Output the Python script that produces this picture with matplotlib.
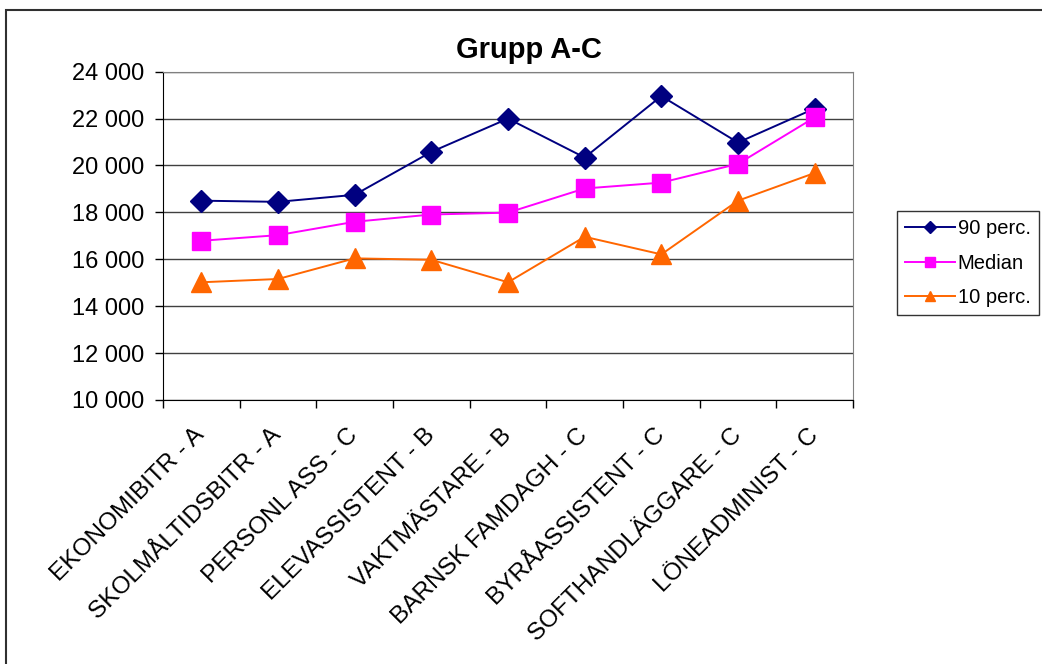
import matplotlib
matplotlib.use("Agg")
import matplotlib.pyplot as plt
from matplotlib.ticker import FuncFormatter, FixedLocator
from matplotlib.patches import Rectangle

plt.rcParams['font.family'] = ['Liberation Sans', 'DejaVu Sans']

categories = ["EKONOMIBITR - A", "SKOLMÅLTIDSBITR - A", "PERSONL ASS - C",
              "ELEVASSISTENT - B", "VAKTMÄSTARE - B", "BARNSK FAMDAGH - C",
              "BYRÅASSISTENT - C", "SOFTHANDLÄGGARE - C", "LÖNEADMINIST - C"]
perc90 = [18500, 18450, 18750, 20580, 22000, 20340, 22960, 20980, 22430]
median = [16790, 17030, 17600, 17910, 17990, 19020, 19270, 20070, 22050]
perc10 = [15020, 15160, 16040, 15980, 15020, 16960, 16210, 18500, 19680]
title = "Grupp A-C"

fig = plt.figure(figsize=(10.42, 6.64), dpi=100)
ax = fig.add_axes([163/1042, 1-400/664, 690/1042, (400-71.7)/664])

x = list(range(len(categories)))
ax.plot(x, perc90, color='#000080', lw=1.4, marker='D', ms=11, label='90 perc.')
ax.plot(x, median, color='#FF00FF', lw=1.4, marker='s', ms=13, label='Median')
ax.plot(x, perc10, color='#FF6600', lw=1.4, marker='^', ms=14, label='10 perc.')

ax.set_xlim(-0.5, len(categories) - 0.5)
ax.set_ylim(10000, 24000)
ax.set_yticks(range(10000, 24001, 2000))
ax.yaxis.set_major_formatter(FuncFormatter(lambda v, p: f"{int(v):,}".replace(",", " ")))
ax.grid(axis='y', color='#404040', lw=1)
ax.set_axisbelow(True)

ax.set_xticks(x)
ax.set_xticklabels(categories, rotation=45, ha='right', va='center',
                   rotation_mode='anchor', fontsize=17.6)
ax.tick_params(axis='x', which='major', length=0, pad=23)
ax.xaxis.set_minor_locator(FixedLocator([i - 0.5 for i in range(len(categories) + 1)]))
ax.tick_params(axis='x', which='minor', length=5.5, width=1, color='black')
ax.tick_params(axis='y', length=5.5, width=1, labelsize=17, pad=8)

for s in ['left', 'bottom']:
    ax.spines[s].set_color('black')
for s in ['top', 'right']:
    ax.spines[s].set_color('#808080')

fig.text(529/1042, 1-50/664, title, fontsize=21, fontweight='bold', ha='center', va='center')

leg = fig.legend(loc='upper left', bbox_to_anchor=(897/1042, 1-211/664),
                 fontsize=14.5, handlelength=2.45, labelspacing=0.75,
                 fancybox=False, edgecolor='black', borderpad=0.42,
                 handletextpad=0.15, borderaxespad=0, markerscale=0.55)
leg.get_frame().set_linewidth(1)

fig.patches.append(Rectangle((6/1042, -0.05), 1.1, 1.05 - 9.5/664, transform=fig.transFigure,
                             fill=False, edgecolor='#303030', lw=1.5))

fig.savefig("out.png", dpi=100)
